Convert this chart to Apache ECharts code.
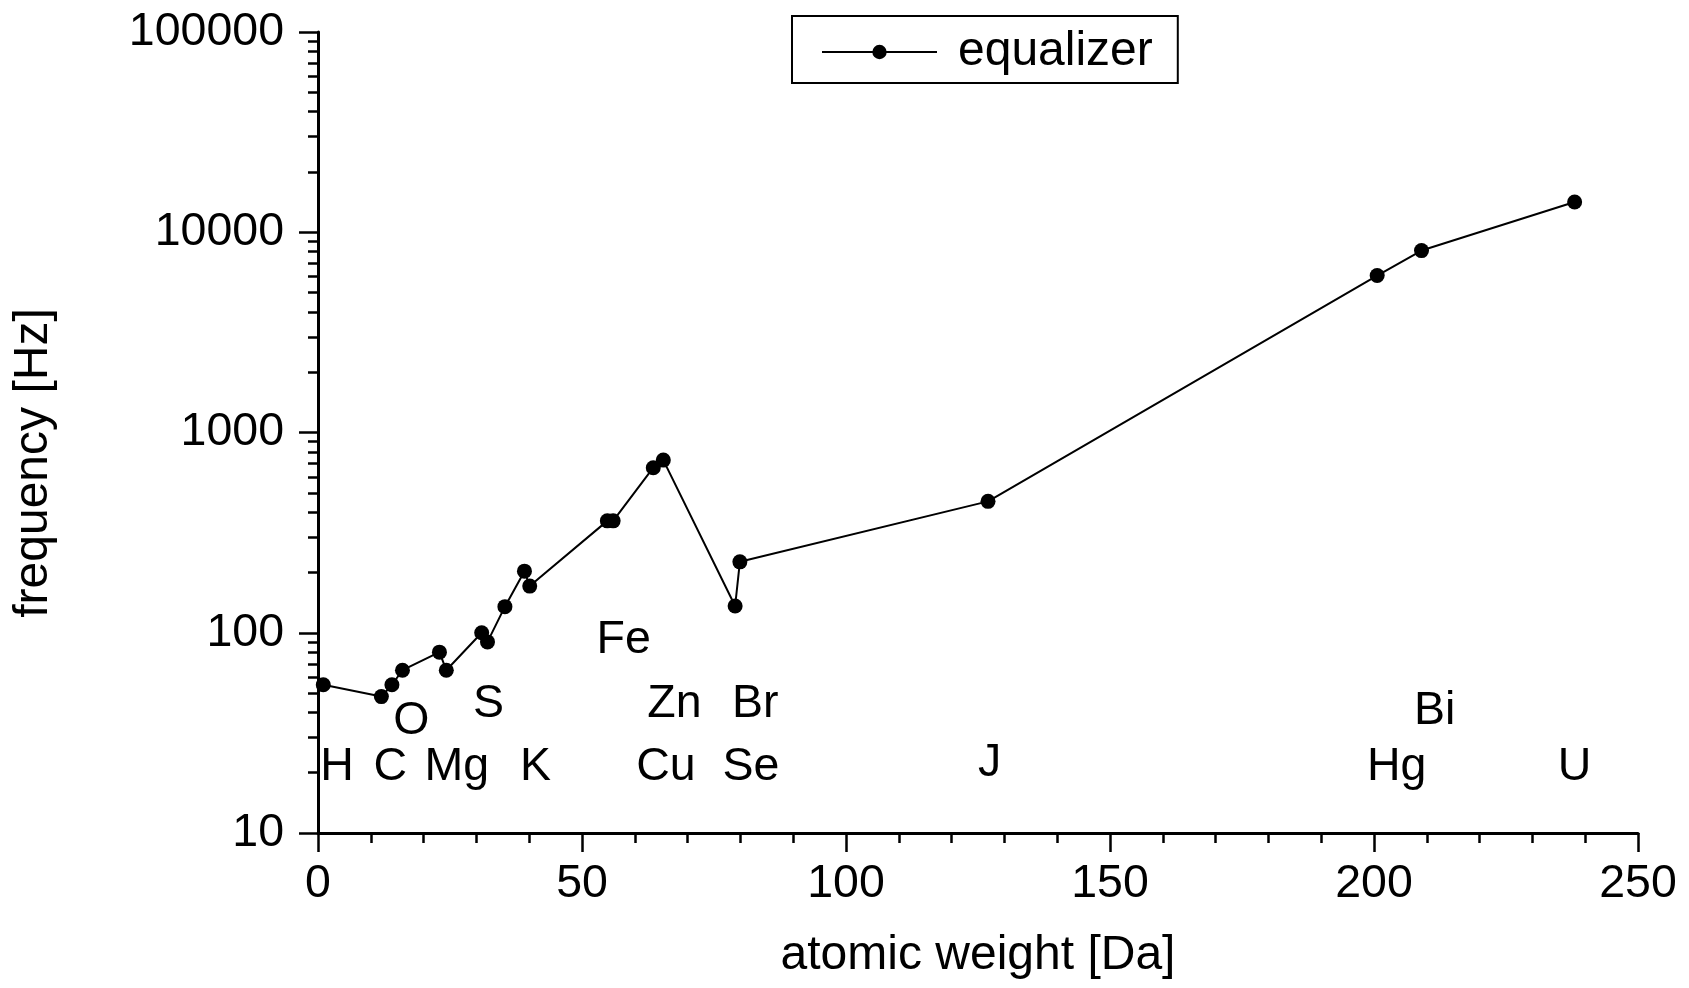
<!DOCTYPE html>
<html><head><meta charset="utf-8">
<script src="https://cdn.jsdelivr.net/npm/echarts@6/dist/echarts.min.js"></script>
<style>html,body{margin:0;padding:0;background:#fff}#c{width:1689px;height:988px}</style>
</head><body><div id="c"></div>
<script>
// ---- data ----
const seriesName = 'equalizer';
const atomicWeights = [1.0, 12.0, 14.0, 16.0, 23.0, 24.3, 31.0, 32.1, 35.4, 39.1, 40.1, 54.8, 55.9, 63.5, 65.4, 79.0, 79.9, 126.9, 200.6, 209.0, 238.0];
const frequencies   = [55, 48, 55, 65, 80, 65, 100, 90, 135, 203, 171, 362, 362, 667, 728, 136, 226, 453, 6080, 8100, 14170];
const elementNames  = ['H', 'C', 'O', 'Mg', 'S', 'K', 'Fe', 'Zn', 'Cu', 'Br', 'Se', 'J', 'Bi', 'Hg', 'U'];
const elementLabelX = [3.6, 13.7, 17.7, 26.3, 32.3, 41.2, 57.9, 67.5, 65.9, 82.8, 82.0, 127.2, 211.5, 204.3, 238.0];
const elementLabelY = [22, 22, 37.3, 22, 45.6, 22, 95.5, 45.4, 22, 45.4, 22, 23.2, 42.2, 22, 22];
const yTickLabels = [10, 100, 1000, 10000, 100000];
const xTickLabels = [0, 50, 100, 150, 200, 250];
const yMinorMultipliers = [2, 3, 4, 5, 6, 7, 8, 9];

// ---- chart ----
const FONT = 'Liberation Sans, Arial, sans-serif';
const lineData = atomicWeights.map((x, i) => [x, frequencies[i]]);
const labelData = elementNames.map((n, i) => ({ name: n, value: [elementLabelX[i], elementLabelY[i]] }));
const minorExp = [];
for (let d = 0; d < yTickLabels.length - 1; d++) {
  yMinorMultipliers.forEach(m => minorExp.push(Math.log10(yTickLabels[d] * m)));
}

const chart = echarts.init(document.getElementById('c'), null, { renderer: 'canvas' });
chart.setOption({
  animation: false,
  backgroundColor: '#fff',
  textStyle: { fontFamily: FONT, color: '#000' },
  grid: { left: 318, right: 51, top: 32, bottom: 155, containLabel: false },
  legend: {
    data: [seriesName],
    left: 792, top: 16,
    padding: [12, 25, 7, 29],
    borderColor: '#000', borderWidth: 2, backgroundColor: '#fff',
    itemWidth: 115, itemHeight: 18,
    textStyle: { fontSize: 48, color: '#000', fontFamily: FONT, padding: [0, 0, 0, 16] }
  },
  xAxis: {
    type: 'value',
    min: xTickLabels[0], max: xTickLabels[xTickLabels.length - 1], interval: 50,
    name: 'atomic weight [Da]', nameLocation: 'middle', nameGap: 99,
    nameTextStyle: { fontSize: 48, color: '#000', fontFamily: FONT },
    axisLine: { show: true, lineStyle: { color: '#000', width: 3 } },
    axisTick: { show: true, inside: false, length: 19, lineStyle: { color: '#000', width: 2.5 } },
    minorTick: { show: true, splitNumber: 5, length: 10, lineStyle: { color: '#000', width: 2.5 } },
    splitLine: { show: false },
    axisLabel: { fontSize: 46.5, color: '#000', fontFamily: FONT, margin: 28 }
  },
  yAxis: [{
    type: 'log', logBase: 10,
    min: yTickLabels[0], max: yTickLabels[yTickLabels.length - 1], interval: 1,
    position: 'left',
    name: 'frequency [Hz]', nameLocation: 'middle', nameGap: 260, nameRotate: 90,
    nameTextStyle: { fontSize: 48, color: '#000', fontFamily: FONT, padding: [0, 61, 0, 0] },
    axisLine: { show: true, lineStyle: { color: '#000', width: 3 } },
    axisTick: { show: true, inside: false, length: 19, lineStyle: { color: '#000', width: 2.5 } },
    splitLine: { show: false },
    axisLabel: { fontSize: 46.5, color: '#000', fontFamily: FONT, margin: 34, formatter: v => String(Math.round(v)) }
  }, {
    type: 'value', min: 1, max: 5, position: 'left',
    axisLine: { show: false },
    axisTick: { show: true, inside: false, length: 10, customValues: minorExp, lineStyle: { color: '#000', width: 2.5 } },
    axisLabel: { show: false },
    splitLine: { show: false }
  }],
  series: [{
    name: seriesName,
    type: 'line',
    data: lineData,
    yAxisIndex: 0,
    symbol: 'circle', symbolSize: 15, showAllSymbol: true,
    lineStyle: { color: '#000', width: 2 },
    itemStyle: { color: '#000' },
    z: 3
  }, {
    name: 'elements',
    type: 'scatter',
    data: labelData,
    yAxisIndex: 0,
    symbolSize: 1,
    itemStyle: { color: 'rgba(0,0,0,0)', opacity: 1 },
    silent: true,
    label: { show: true, position: 'inside', formatter: '{b}', fontSize: 46.5, color: '#000', opacity: 1, offset: [0, 3], fontFamily: FONT },
    z: 2
  }]
});
</script>
</body></html>
